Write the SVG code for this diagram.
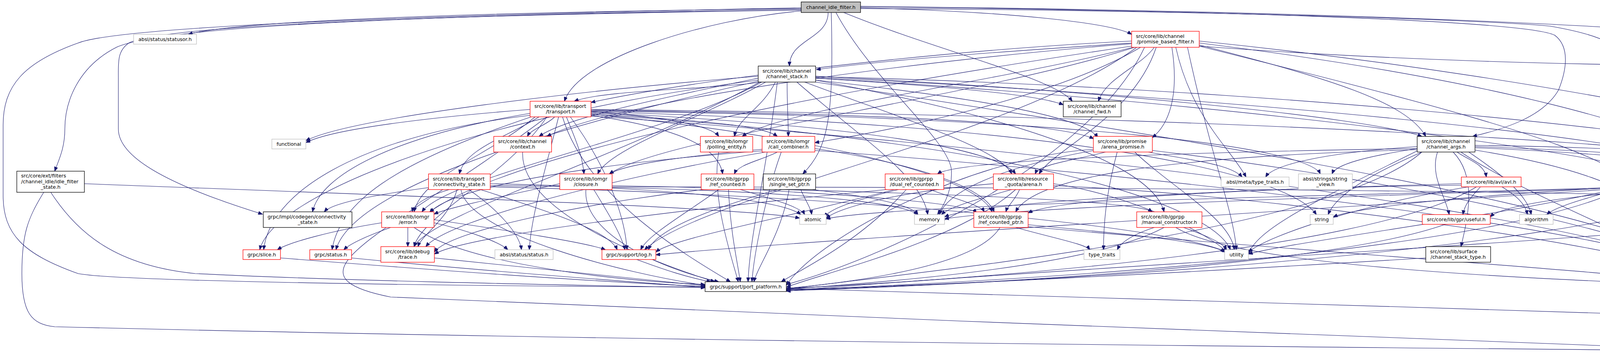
<svg xmlns="http://www.w3.org/2000/svg" width="5261" height="916" viewBox="0 0 5261 916">
<style>
.e{fill:none;stroke:#191970;stroke-width:1.1;marker-end:url(#a)}
.n rect{fill:#fff;stroke-width:1.3}
.r rect{stroke:#ff0000}
.k rect{stroke:#000}
.g rect{stroke:#bfbfbf}
.root rect{fill:#bfbfbf;stroke:#000}
text{font-family:"DejaVu Sans","Liberation Sans",sans-serif;font-size:12.7px;fill:#000}
.c{text-anchor:middle}
</style>
<defs>
<marker id="a" markerWidth="12" markerHeight="9" refX="11" refY="4.5" orient="auto" markerUnits="userSpaceOnUse">
<path d="M0,0 L11,4.5 L0,9 z" fill="#191970" stroke="#191970" stroke-width="1"/>
</marker>
</defs>
<rect x="0" y="0" width="5261" height="916" fill="#fff"/>
<g id="edges">
<!-- root -->
<path class="e" d="M2051,22 C1300,30 620,50 482,88"/>
<path class="e" d="M2051,24 C1000,40 420,70 300,120 C200,170 166,260 166,330 C166,380 150,410 140,438"/>
<path class="e" d="M2051,26 C1000,40 400,70 330,110 C300,130 303,160 303,200 L303,330 C303,400 420,470 672,548"/>
<path class="e" d="M2051,20 C1000,40 300,70 200,110 C60,160 8,220 8,320 L8,500 C8,600 60,650 200,700 C300,720 1200,733 1805,734"/>
<path class="e" d="M2120,32 C2120,100 2021,100 2021,169"/>
<path class="e" d="M2128,32 C2135,300 2120,380 2055,445"/>
<path class="e" d="M2203,20 C2600,30 2850,60 2897,88"/>
<path class="e" d="M2160,32 C2400,130 2700,200 2745,259"/>
<path class="e" d="M2203,18 C3000,25 3900,50 3980,90 C4020,120 4010,180 3990,230 C3950,300 3850,330 3770,349"/>
<path class="e" d="M2203,22 C3000,25 3800,50 3969,67 C4100,90 4180,120 4185,200 C4188,300 4190,380 4192,445"/>
<path class="e" d="M2203,16 C3500,30 4300,70 4600,110 C4850,145 4926,170 4926,220 L4926,283 C4926,360 4700,420 4530,452"/>
<path class="e" d="M2051,28 C1800,50 1480,150 1445,259"/>
<path class="e" d="M2140,32 C2230,200 2420,350 2435,430 C2440,480 2420,520 2400,549"/>
<!-- promise_based_filter -->
<path class="e" d="M2897,110 C2600,130 2300,150 2090,178"/>
<path class="e" d="M2955,121 C2920,170 2830,200 2812,259"/>
<path class="e" d="M3070,115 C3400,200 3600,260 3650,349"/>
<path class="e" d="M2897,112 C2400,150 1600,250 1400,349"/>
<path class="e" d="M2897,105 C2400,130 1800,200 1513,262"/>
<path class="e" d="M2900,121 C2600,200 2000,280 1900,349"/>
<path class="e" d="M2920,121 C2700,250 2300,330 2086,365"/>
<path class="e" d="M2905,121 C2500,250 1700,350 1560,445"/>
<path class="e" d="M2897,118 C2000,250 1300,400 1100,542"/>
<path class="e" d="M3000,121 C3020,250 2990,320 2950,352"/>
<path class="e" d="M3070,118 C3600,250 4000,350 4150,445"/>
<path class="e" d="M2960,121 C2900,300 2700,380 2660,445"/>
<path class="e" d="M3070,110 C3800,200 4300,330 4440,445"/>
<path class="e" d="M3010,121 C3050,300 3150,380 3190,453"/>
<path class="e" d="M3070,105 C4000,200 5000,400 5100,542"/>
<path class="e" d="M2910,121 C2600,350 1800,500 1650,639"/>
<path class="e" d="M2930,121 C2800,400 2300,650 2013,728"/>
<path class="e" d="M3040,121 C3100,400 3160,550 3165,639"/>
<path class="e" d="M3070,118 C3500,150 4000,170 4668,170 C4900,172 5150,260 5229,460 C5250,520 5256,600 5256,700 C5256,800 5100,820 4398,897"/>
<!-- channel_stack -->
<path class="e" d="M1941,195 C1500,230 900,300 783,360"/>
<path class="e" d="M1950,210 C1800,230 1550,230 1470,259"/>
<path class="e" d="M1941,200 C1700,250 1450,300 1380,349"/>
<path class="e" d="M1985,210 C1950,280 1890,300 1880,349"/>
<path class="e" d="M2015,210 C2015,280 2018,300 2018,349"/>
<path class="e" d="M2088,200 C2400,220 2650,240 2722,268"/>
<path class="e" d="M2088,195 C2800,230 3500,300 3640,349"/>
<path class="e" d="M2088,205 C2500,250 2780,300 2810,352"/>
<path class="e" d="M2060,210 C2300,300 2560,380 2590,445"/>
<path class="e" d="M1960,210 C1800,300 1560,380 1530,445"/>
<path class="e" d="M1950,210 C1700,350 1150,450 1080,542"/>
<path class="e" d="M1945,210 C1600,400 1100,550 1060,631"/>
<path class="e" d="M2088,200 C3000,250 4400,400 4530,542"/>
<path class="e" d="M2088,205 C2600,300 2950,420 2980,542"/>
<path class="e" d="M2088,198 C3000,240 4300,350 4430,445"/>
<path class="e" d="M2088,196 C3500,230 5000,400 5110,542"/>
<path class="e" d="M1941,205 C1200,300 700,500 665,639"/>
<path class="e" d="M1941,208 C1300,350 900,500 860,639"/>
<path class="e" d="M1990,210 C1960,450 1920,600 1915,721"/>
<path class="e" d="M2088,210 C3000,350 4300,550 4400,721"/>
<path class="e" d="M2040,210 C2200,350 2360,450 2375,549"/>
<!-- transport -->
<path class="e" d="M1357,280 C1100,300 850,330 783,365"/>
<path class="e" d="M1420,299 C1400,320 1360,330 1350,349"/>
<path class="e" d="M1380,299 C1300,350 1190,380 1176,445"/>
<path class="e" d="M1450,299 C1470,350 1490,390 1495,445"/>
<path class="e" d="M1513,285 C1700,300 1820,320 1840,349"/>
<path class="e" d="M1513,290 C1800,310 1950,320 1990,349"/>
<path class="e" d="M1370,299 C1250,400 1080,450 1060,542"/>
<path class="e" d="M1513,295 C1750,330 1840,380 1850,445"/>
<path class="e" d="M1513,292 C2100,350 2500,450 2540,542"/>
<path class="e" d="M1513,282 C2200,290 2700,310 2800,355"/>
<path class="e" d="M1513,288 C2200,320 2550,380 2600,445"/>
<path class="e" d="M1400,299 C1300,450 1080,550 1060,631"/>
<path class="e" d="M1357,290 C1000,350 820,450 800,542"/>
<path class="e" d="M1513,280 C3500,300 5000,400 5120,542"/>
<path class="e" d="M1357,295 C900,350 690,500 675,639"/>
<path class="e" d="M1360,299 C1000,420 870,520 850,639"/>
<path class="e" d="M1460,299 C1550,420 1600,550 1605,639"/>
<path class="e" d="M1430,299 C1400,420 1360,550 1355,639"/>
<path class="e" d="M1513,284 C2800,300 3350,380 3380,445"/>
<path class="e" d="M1513,286 C2800,320 3300,450 3370,549"/>
<path class="e" d="M1513,293 C2600,360 3100,520 3150,639"/>
<path class="e" d="M1440,299 C1500,500 1750,650 1870,721"/>
<path class="e" d="M1513,297 C3000,400 4300,600 4395,721"/>
<path class="e" d="M1400,299 C1000,600 700,700 1000,760 C2000,800 3500,870 4327,893"/>
<!-- small sources -->
<path class="e" d="M1338,389 C1330,550 1700,680 1830,721"/>
<path class="e" d="M1840,389 C1820,500 1870,650 1890,721"/>
<!-- call_combiner -->
<path class="e" d="M2000,389 C1960,500 1930,650 1925,721"/>
<path class="e" d="M1990,389 C1950,410 1890,420 1880,445"/>
<path class="e" d="M2086,380 C2350,420 2520,480 2545,542"/>
<path class="e" d="M1951,382 C1750,400 1600,420 1560,445"/>
<path class="e" d="M1951,386 C1500,420 1150,480 1100,545"/>
<path class="e" d="M1960,389 C1600,450 1150,560 1090,631"/>
<path class="e" d="M2086,385 C3000,450 4300,600 4400,721"/>
<!-- arena_promise -->
<path class="e" d="M2830,389 C2750,410 2660,420 2650,445"/>
<path class="e" d="M2860,389 C2830,500 2825,580 2825,639"/>
<path class="e" d="M2905,389 C3000,480 3150,560 3160,639"/>
<path class="e" d="M2940,389 C3050,410 3150,420 3180,453"/>
<path class="e" d="M2800,385 C2600,420 2430,480 2405,549"/>
<path class="e" d="M2950,385 C3500,450 4300,600 4405,721"/>
<path class="e" d="M2799,382 C2500,400 2100,600 2013,730"/>
<!-- channel_args -->
<path class="e" d="M3730,389 C3760,410 3800,420 3805,453"/>
<path class="e" d="M3680,389 C3660,450 3700,500 3710,549"/>
<path class="e" d="M3760,389 C3850,450 3910,500 3920,549"/>
<path class="e" d="M3640,389 C3500,450 3420,500 3400,549"/>
<path class="e" d="M3630,385 C3400,500 3220,580 3196,650"/>
<path class="e" d="M3628,375 C3400,390 3260,420 3240,453"/>
<path class="e" d="M3628,380 C3500,400 3420,420 3410,445"/>
<path class="e" d="M3776,378 C4300,400 4700,450 4760,549"/>
<path class="e" d="M3776,384 C4000,420 4200,480 4215,549"/>
<path class="e" d="M3776,372 C4500,380 5050,450 5110,542"/>
<path class="e" d="M3628,383 C3000,400 2650,450 2600,542"/>
<path class="e" d="M3776,375 C4200,390 4430,410 4450,445"/>
<path class="e" d="M3720,389 C3780,450 3760,550 3740,631"/>
<path class="e" d="M3628,380 C3000,390 2450,410 2400,445"/>
<path class="e" d="M3740,389 C3900,500 4300,650 4390,721"/>
<path class="e" d="M3640,389 C3400,600 2300,700 2013,740"/>
<!-- transport connectivity_state -->
<path class="e" d="M1150,485 C1100,500 1060,520 1055,542"/>
<path class="e" d="M1170,485 C1150,560 1080,600 1070,631"/>
<path class="e" d="M1200,485 C1280,540 1330,600 1335,639"/>
<path class="e" d="M1097,480 C950,500 850,520 830,542"/>
<path class="e" d="M1255,470 C1700,480 2000,510 2050,549"/>
<path class="e" d="M1255,475 C1900,480 2300,510 2350,549"/>
<path class="e" d="M1255,478 C2200,500 3000,580 3140,645"/>
<path class="e" d="M1230,485 C1400,540 1560,590 1580,639"/>
<path class="e" d="M1180,485 C1200,600 1600,700 1805,730"/>
<!-- closure -->
<path class="e" d="M1433,470 C1300,500 1150,530 1111,548"/>
<path class="e" d="M1520,485 C1560,550 1590,600 1600,639"/>
<path class="e" d="M1567,475 C2300,490 2900,510 2950,542"/>
<path class="e" d="M1567,478 C3500,480 5000,500 5080,542"/>
<path class="e" d="M1500,485 C1490,600 1700,690 1840,721"/>
<!-- ref_counted -->
<path class="e" d="M1865,485 C1870,600 1890,680 1895,721"/>
<path class="e" d="M1895,485 C1980,510 2050,530 2060,549"/>
<path class="e" d="M1840,485 C1750,550 1660,600 1640,639"/>
<path class="e" d="M1920,485 C2200,500 2480,520 2500,545"/>
<path class="e" d="M1800,485 C1500,520 1150,590 1112,645"/>
<!-- single_set_ptr -->
<path class="e" d="M2050,485 C2060,510 2075,530 2078,549"/>
<path class="e" d="M2020,485 C2000,600 1940,680 1930,721"/>
<path class="e" d="M1990,485 C1800,540 1680,590 1660,639"/>
<path class="e" d="M2080,485 C2200,500 2330,520 2350,549"/>
<!-- dual_ref_counted -->
<path class="e" d="M2300,485 C2200,510 2130,530 2110,555"/>
<path class="e" d="M2320,485 C2200,620 2050,690 2000,721"/>
<path class="e" d="M2380,485 C2450,510 2510,525 2520,542"/>
<path class="e" d="M2290,485 C2000,560 1720,610 1679,645"/>
<path class="e" d="M2270,485 C1800,530 1200,600 1112,650"/>
<!-- arena -->
<path class="e" d="M2543,470 C2300,490 2150,530 2115,558"/>
<path class="e" d="M2590,485 C2500,510 2430,530 2410,549"/>
<path class="e" d="M2600,485 C2450,620 2100,700 2013,735"/>
<path class="e" d="M2697,470 C2900,500 3100,600 3140,645"/>
<path class="e" d="M2697,475 C3300,500 4300,650 4390,721"/>
<path class="e" d="M2610,485 C2600,510 2580,525 2575,542"/>
<!-- avl -->
<path class="e" d="M3845,478 C3880,500 3905,520 3910,549"/>
<path class="e" d="M3790,478 C3770,500 3750,520 3745,549"/>
<path class="e" d="M3741,470 C3000,490 2500,520 2418,555"/>
<path class="e" d="M3760,478 C3500,520 3250,600 3196,645"/>
<path class="e" d="M3741,474 C3200,480 2700,510 2632,545"/>
<path class="e" d="M3780,478 C3500,650 2400,720 2013,738"/>
<!-- activity -->
<path class="e" d="M4220,485 C4225,510 4225,530 4225,549"/>
<path class="e" d="M4140,485 C4050,510 3980,530 3960,549"/>
<path class="e" d="M4175,485 C4120,600 4110,700 4120,780 C4150,850 4250,880 4327,893"/>
<path class="e" d="M4121,480 C3500,500 2300,520 2115,560"/>
<path class="e" d="M4121,482 C3500,500 2600,530 2418,560"/>
<path class="e" d="M4130,485 C3800,560 3300,620 3196,650"/>
<path class="e" d="M4121,484 C3000,560 2000,620 1679,652"/>
<path class="e" d="M4272,480 C4600,500 4750,520 4770,549"/>
<path class="e" d="M4150,485 C3800,650 2600,720 2013,742"/>
<!-- gprpp time -->
<path class="e" d="M4490,485 C4520,510 4535,530 4540,542"/>
<path class="e" d="M4460,485 C4455,560 4540,600 4560,631"/>
<path class="e" d="M4518,485 C4650,560 4730,640 4700,730 C4650,850 4500,890 4398,897"/>
<path class="e" d="M4399,470 C4000,480 3500,520 3413,555"/>
<path class="e" d="M4399,475 C4100,490 3850,520 3815,555"/>
<path class="e" d="M4448,485 C4430,560 4420,650 4418,721"/>
<path class="e" d="M4420,485 C4000,650 2600,725 2013,744"/>
<!-- time_precise, gpr_types, grpc_types -->
<path class="e" d="M4570,582 C4585,600 4595,615 4600,631"/>
<path class="e" d="M4480,575 C4400,650 4380,800 4370,885"/>
<path class="e" d="M4480,570 C4000,620 2500,700 2013,745"/>
<path class="e" d="M4570,671 C4520,690 4470,710 4454,725"/>
<path class="e" d="M4600,671 C4560,720 4520,760 4505,795"/>
<path class="e" d="M5043,570 C4900,590 4750,620 4698,638"/>
<path class="e" d="M5060,582 C4800,640 4550,700 4454,730"/>
<path class="e" d="M5080,582 C4900,680 4650,760 4540,795"/>
<path class="e" d="M4460,835 C4430,860 4410,875 4390,885"/>
<path class="e" d="M2013,738 C2600,755 3600,785 4402,811"/>
<path class="e" d="M3700,574 C3400,680 2500,730 2013,742"/>
<!-- manual_constructor -->
<path class="e" d="M2955,582 C2900,600 2870,620 2860,639"/>
<path class="e" d="M3030,582 C3080,600 3130,620 3140,639"/>
<path class="e" d="M2980,582 C2800,680 2300,720 2013,740"/>
<path class="e" d="M3010,582 C3200,700 4200,720 4380,733"/>
<!-- ref_counted_ptr -->
<path class="e" d="M2560,582 C2500,680 2200,720 2013,738"/>
<path class="e" d="M2600,582 C2700,610 2780,625 2790,639"/>
<path class="e" d="M2632,575 C2900,600 3100,620 3135,645"/>
<path class="e" d="M2632,580 C3300,640 4200,700 4380,728"/>
<!-- error -->
<path class="e" d="M1044,582 L1044,631"/>
<path class="e" d="M1111,570 C1200,590 1280,620 1300,639"/>
<path class="e" d="M1111,562 C1300,590 1500,620 1550,639"/>
<path class="e" d="M1000,582 C950,600 900,620 880,639"/>
<path class="e" d="M977,570 C850,590 740,620 710,639"/>
<path class="e" d="M1060,582 C1200,680 1600,720 1805,728"/>
<!-- leaves to port_platform -->
<path class="e" d="M1112,660 C1400,690 1700,720 1805,731"/>
<path class="e" d="M718,660 C1100,690 1500,720 1805,733"/>
<path class="e" d="M900,660 C1200,690 1600,720 1805,735"/>
<path class="e" d="M1630,664 C1700,690 1760,710 1820,721"/>
<path class="e" d="M3650,660 C3000,700 2400,730 2013,741"/>
<!-- idle_filter_state -->
<path class="e" d="M130,492 C200,600 300,680 500,700 C900,720 1500,730 1805,736"/>
<path class="e" d="M216,470 C1000,500 1900,530 2047,558"/>
<path class="e" d="M112,492 C70,560 56,600 56,700 C56,800 80,830 140,836 C1500,870 3000,885 4327,897"/>
</g>
<g id="n-root" class="n root"><rect x="2051" y="5" width="152" height="27"/><text class="c" x="2127" y="23">channel_idle_filter.h</text></g>
<g id="n-statusor" class="n g"><rect x="342" y="88" width="161" height="25"/><text class="c" x="422.5" y="105">absl/status/statusor.h</text></g>
<g id="n-promise_based_filter" class="n r"><rect x="2897" y="80" width="173" height="41"/><text x="2908" y="96.5">src/core/lib/channel</text><text class="c" x="2983.5" y="111">/promise_based_filter.h</text></g>
<g id="n-channel_stack" class="n k"><rect x="1941" y="169" width="147" height="41"/><text x="1952" y="185.5">src/core/lib/channel</text><text class="c" x="2014.5" y="200">/channel_stack.h</text></g>
<g id="n-transport" class="n r"><rect x="1357" y="259" width="156" height="40"/><text x="1368" y="275.5">src/core/lib/transport</text><text class="c" x="1435" y="290">/transport.h</text></g>
<g id="n-channel_fwd" class="n k"><rect x="2722" y="259" width="148" height="40"/><text x="2733" y="275.5">src/core/lib/channel</text><text class="c" x="2796" y="290">/channel_fwd.h</text></g>
<g id="n-functional" class="n g"><rect x="696" y="356" width="87" height="25"/><text class="c" x="739.5" y="373">functional</text></g>
<g id="n-context" class="n r"><rect x="1264" y="349" width="148" height="40"/><text x="1275" y="365.5">src/core/lib/channel</text><text class="c" x="1338" y="380">/context.h</text></g>
<g id="n-polling_entity" class="n r"><rect x="1793" y="349" width="134" height="40"/><text x="1804" y="365.5">src/core/lib/iomgr</text><text class="c" x="1860" y="380">/polling_entity.h</text></g>
<g id="n-call_combiner" class="n r"><rect x="1951" y="349" width="135" height="40"/><text x="1962" y="365.5">src/core/lib/iomgr</text><text class="c" x="2018.5" y="380">/call_combiner.h</text></g>
<g id="n-arena_promise" class="n r"><rect x="2799" y="349" width="151" height="40"/><text x="2810" y="365.5">src/core/lib/promise</text><text class="c" x="2874.5" y="380">/arena_promise.h</text></g>
<g id="n-channel_args" class="n k"><rect x="3628" y="349" width="148" height="40"/><text x="3639" y="365.5">src/core/lib/channel</text><text class="c" x="3702" y="380">/channel_args.h</text></g>
<g id="n-idle_filter_state" class="n k"><rect x="43" y="438" width="173" height="54"/><text x="54" y="454">src/core/ext/filters</text><text x="54" y="468.5">/channel_idle/idle_filter</text><text class="c" x="129.5" y="483">_state.h</text></g>
<g id="n-connectivity_state" class="n r"><rect x="1097" y="445" width="158" height="40"/><text x="1108" y="461.5">src/core/lib/transport</text><text class="c" x="1176" y="476">/connectivity_state.h</text></g>
<g id="n-closure" class="n r"><rect x="1433" y="445" width="134" height="40"/><text x="1444" y="461.5">src/core/lib/iomgr</text><text class="c" x="1500" y="476">/closure.h</text></g>
<g id="n-ref_counted" class="n r"><rect x="1795" y="445" width="135" height="40"/><text x="1806" y="461.5">src/core/lib/gprpp</text><text class="c" x="1862.5" y="476">/ref_counted.h</text></g>
<g id="n-single_set_ptr" class="n k"><rect x="1954" y="445" width="134" height="40"/><text x="1965" y="461.5">src/core/lib/gprpp</text><text class="c" x="2021" y="476">/single_set_ptr.h</text></g>
<g id="n-dual_ref_counted" class="n r"><rect x="2266" y="445" width="150" height="40"/><text x="2277" y="461.5">src/core/lib/gprpp</text><text class="c" x="2341" y="476">/dual_ref_counted.h</text></g>
<g id="n-arena" class="n r"><rect x="2543" y="445" width="154" height="40"/><text x="2554" y="461.5">src/core/lib/resource</text><text class="c" x="2620" y="476">_quota/arena.h</text></g>
<g id="n-meta_type_traits" class="n g"><rect x="3126" y="453" width="174" height="25"/><text class="c" x="3213" y="470">absl/meta/type_traits.h</text></g>
<g id="n-string_view" class="n g"><rect x="3324" y="445" width="138" height="40"/><text x="3335" y="461.5">absl/strings/string</text><text class="c" x="3393" y="476">_view.h</text></g>
<g id="n-avl" class="n r"><rect x="3741" y="453" width="153" height="25"/><text class="c" x="3817.5" y="470">src/core/lib/avl/avl.h</text></g>
<g id="n-activity" class="n r"><rect x="4121" y="445" width="151" height="40"/><text x="4132" y="461.5">src/core/lib/promise</text><text class="c" x="4196.5" y="476">/activity.h</text></g>
<g id="n-gprpp_time" class="n r"><rect x="4399" y="445" width="134" height="40"/><text x="4410" y="461.5">src/core/lib/gprpp</text><text class="c" x="4466" y="476">/time.h</text></g>
<g id="n-codegen_connectivity_state" class="n k"><rect x="674" y="542" width="227" height="40"/><text x="685" y="558.5">grpc/impl/codegen/connectivity</text><text class="c" x="787.5" y="573">_state.h</text></g>
<g id="n-error" class="n r"><rect x="977" y="542" width="134" height="40"/><text x="988" y="558.5">src/core/lib/iomgr</text><text class="c" x="1044" y="573">/error.h</text></g>
<g id="n-atomic" class="n g"><rect x="2047" y="549" width="68" height="25"/><text class="c" x="2081" y="566">atomic</text></g>
<g id="n-memory" class="n g"><rect x="2341" y="549" width="77" height="25"/><text class="c" x="2379.5" y="566">memory</text></g>
<g id="n-ref_counted_ptr" class="n r"><rect x="2493" y="542" width="139" height="40"/><text x="2504" y="558.5">src/core/lib/gprpp</text><text class="c" x="2562.5" y="573">/ref_counted_ptr.h</text></g>
<g id="n-manual_constructor" class="n r"><rect x="2910" y="542" width="167" height="40"/><text x="2921" y="558.5">src/core/lib/gprpp</text><text class="c" x="2993.5" y="573">/manual_constructor.h</text></g>
<g id="n-string" class="n g"><rect x="3354" y="549" width="59" height="25"/><text class="c" x="3383.5" y="566">string</text></g>
<g id="n-useful" class="n r"><rect x="3641" y="549" width="174" height="25"/><text class="c" x="3728" y="566">src/core/lib/gpr/useful.h</text></g>
<g id="n-algorithm" class="n g"><rect x="3890" y="549" width="86" height="25"/><text class="c" x="3933" y="566">algorithm</text></g>
<g id="n-variant" class="n g"><rect x="4152" y="549" width="151" height="25"/><text class="c" x="4227.5" y="566">absl/types/variant.h</text></g>
<g id="n-time_precise" class="n r"><rect x="4480" y="542" width="152" height="40"/><text x="4491" y="558.5">src/core/lib/gpr/time</text><text class="c" x="4556" y="573">_precise.h</text></g>
<g id="n-optional" class="n g"><rect x="4707" y="549" width="159" height="25"/><text class="c" x="4786.5" y="566">absl/types/optional.h</text></g>
<g id="n-grpc_types" class="n r"><rect x="5043" y="542" width="175" height="40"/><text x="5054" y="558.5">grpc/impl/codegen/grpc</text><text class="c" x="5130.5" y="573">_types.h</text></g>
<g id="n-slice" class="n r"><rect x="622" y="639" width="96" height="25"/><text class="c" x="670" y="656">grpc/slice.h</text></g>
<g id="n-status" class="n r"><rect x="793" y="639" width="107" height="25"/><text class="c" x="846.5" y="656">grpc/status.h</text></g>
<g id="n-trace" class="n r"><rect x="975" y="631" width="137" height="40"/><text x="986" y="647.5">src/core/lib/debug</text><text class="c" x="1043.5" y="662">/trace.h</text></g>
<g id="n-absl_status" class="n g"><rect x="1267" y="639" width="149" height="25"/><text class="c" x="1341.5" y="656">absl/status/status.h</text></g>
<g id="n-log" class="n r"><rect x="1541" y="639" width="138" height="25"/><text class="c" x="1610" y="656">grpc/support/log.h</text></g>
<g id="n-type_traits" class="n g"><rect x="2775" y="639" width="92" height="25"/><text class="c" x="2821" y="656">type_traits</text></g>
<g id="n-utility" class="n g"><rect x="3135" y="639" width="61" height="25"/><text class="c" x="3165.5" y="656">utility</text></g>
<g id="n-channel_stack_type" class="n k"><rect x="3650" y="631" width="166" height="40"/><text x="3661" y="647.5">src/core/lib/surface</text><text class="c" x="3733" y="662">/channel_stack_type.h</text></g>
<g id="n-gpr_types" class="n k"><rect x="4532" y="631" width="166" height="40"/><text x="4543" y="647.5">grpc/impl/codegen/gpr</text><text class="c" x="4615" y="662">_types.h</text></g>
<g id="n-port_platform" class="n k"><rect x="1805" y="721" width="208" height="25"/><text class="c" x="1909" y="738">grpc/support/port_platform.h</text></g>
<g id="n-stddef" class="n g"><rect x="4380" y="721" width="74" height="25"/><text class="c" x="4417" y="738">stddef.h</text></g>
<g id="n-codegen_port_platform" class="n k"><rect x="4402" y="795" width="172" height="40"/><text x="4413" y="811.5">grpc/impl/codegen/port</text><text class="c" x="4488" y="826">_platform.h</text></g>
<g id="n-stdint" class="n k"><rect x="4327" y="885" width="71" height="25"/><text class="c" x="4362.5" y="902">stdint.h</text></g>
</svg>
